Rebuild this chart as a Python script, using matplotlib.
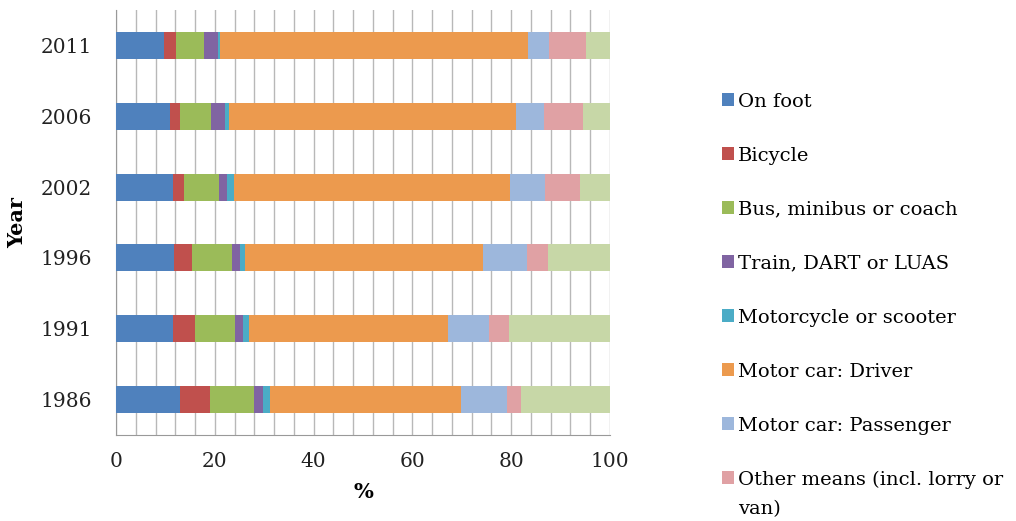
import numpy as np
from matplotlib import pyplot as plt
from matplotlib.patches import Patch

plt.rcParams['font.family'] = ['DejaVu Serif']

"DATA"
years = ['1986', '1991', '1996', '2002', '2006', '2011']
modes = ['On foot', 'Bicycle', 'Bus, minibus or coach', 'Train, DART or LUAS',
         'Motorcycle or scooter', 'Motor car: Driver', 'Motor car: Passenger',
         'Other means (incl. lorry or', 'Not stated']
on_foot    = [13.0, 11.6, 11.8, 11.6, 10.9, 9.8]
bicycle    = [6.1, 4.4, 3.6, 2.1, 2.1, 2.4]
bus        = [8.9, 8.1, 8.1, 7.1, 6.3, 5.6]
train      = [1.7, 1.7, 1.7, 1.6, 2.7, 2.8]
motorcycle = [1.4, 1.2, 1.0, 1.4, 0.9, 0.5]
driver     = [38.8, 40.2, 48.0, 56.0, 58.0, 62.4]
passenger  = [9.2, 8.3, 8.9, 7.0, 5.8, 4.2]
other      = [2.8, 4.1, 4.3, 7.2, 7.8, 7.4]
not_stated = [18.1, 20.4, 12.6, 6.0, 5.5, 4.9]

series = [on_foot, bicycle, bus, train, motorcycle, driver, passenger, other, not_stated]
colors = ['#4F81BD', '#C0504D', '#9BBB59', '#8064A2', '#4BACC6',
          '#EC9A4E', '#9DB7DC', '#E0A1A4', '#C7D7A7']

"PLOT OPTIONS"
fsize = 14.5
lsize = 14

"MAKE FIG"
fig = plt.figure(figsize=(10.16, 5.21), dpi=100)
ax = fig.add_axes([116/1016, 1-435/521, 494/1016, 425/521])

y = np.arange(len(years))
left = np.zeros(len(years))
for vals, col in zip(series, colors):
    ax.barh(y, vals, left=left, height=0.38, color=col, zorder=3)
    left = left + np.array(vals)

ax.set_xlim(0, 100)
ax.set_ylim(-0.5, len(years) - 0.5)
ax.set_xticks(np.arange(0, 101, 20))
ax.set_xticks(np.arange(0, 101, 4), minor=True)
ax.set_yticks(y)
ax.set_yticklabels(years)
ax.grid(axis='x', which='both', color='#B8B8B8', linewidth=1, zorder=0)
ax.tick_params(axis='both', which='both', length=0, labelsize=fsize, colors='#222222')
ax.tick_params(axis='x', pad=12)
ax.tick_params(axis='y', pad=17)
for s in ['top', 'right']:
    ax.spines[s].set_visible(False)
for s in ['left', 'bottom']:
    ax.spines[s].set_color('#999999')

ax.set_xlabel('%', fontsize=15, fontweight='bold', labelpad=8)
ax.set_ylabel('Year', fontsize=15, fontweight='bold', labelpad=10)

handles = [Patch(facecolor=c, edgecolor='none') for c in colors[:8]]
leg = fig.legend(handles, modes[:8], loc='upper left', bbox_to_anchor=(712/1016, 1-83/521),
                 frameon=False, fontsize=lsize, handlelength=0.65, handleheight=0.65,
                 handletextpad=0.2, labelspacing=1.85, borderpad=0)

"second line of the wrapped legend entry"
fig.canvas.draw()
bb = leg.get_texts()[-1].get_window_extent().transformed(fig.transFigure.inverted())
fig.text(bb.x0, bb.y0 - 29/521, 'van)', fontsize=lsize, va='bottom', ha='left')

fig.savefig('out.png', dpi=100)
